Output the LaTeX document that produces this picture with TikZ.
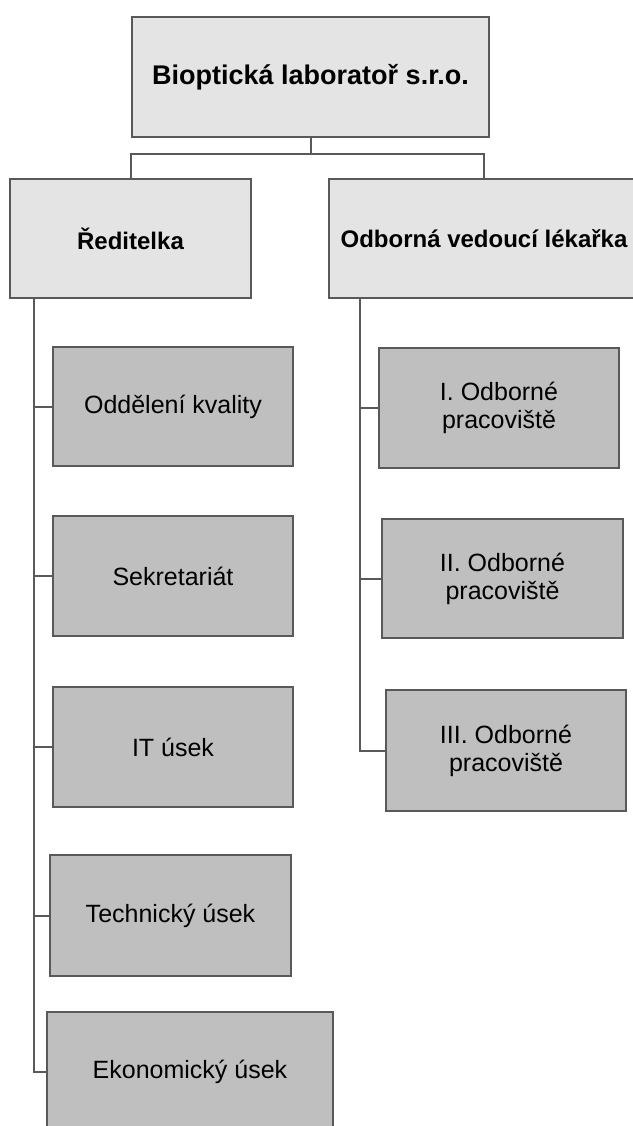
\documentclass[tikz,border=0pt]{standalone}
\usepackage{fontspec}
\setmainfont{Liberation Sans}
\definecolor{lineg}{HTML}{595959}
\definecolor{topfill}{HTML}{E4E4E4}
\definecolor{subfill}{HTML}{BFBFBF}
\begin{document}
\begin{tikzpicture}[x=1pt,y=-1pt,
  box/.style={draw=lineg, line width=2pt, inner sep=0pt, align=center},
  head/.style={box, fill=topfill, font=\bfseries\fontsize{24}{28}\selectfont},
  unit/.style={box, fill=subfill, font=\fontsize{25}{28}\selectfont},
  conn/.style={draw=lineg, line width=2pt}]
\useasboundingbox (0,0) rectangle (632,1126);
\fill[white] (0,0) rectangle (632,1126);
% top
\node[head, font=\bfseries\fontsize{27}{30}\selectfont, minimum width=357pt, minimum height=120pt] (top) at (310.5,77) {Bioptická laboratoř s.r.o.};
% second level
\node[head, minimum width=241pt, minimum height=119pt] (red) at (130.5,238.5) {Ředitelka};
\node[head, minimum width=310pt, minimum height=119pt] (odb) at (484,238.5) {Odborná vedoucí lékařka};
% left units
\node[unit, minimum width=240pt, minimum height=119pt] (ok) at (173,406.5) {Oddělení kvality};
\node[unit, minimum width=240pt, minimum height=120pt] (sek) at (173,576) {Sekretariát};
\node[unit, minimum width=240pt, minimum height=120pt] (it) at (173,747) {IT úsek};
\node[unit, minimum width=241pt, minimum height=121pt] (tech) at (170.5,915.5) {Technický úsek};
\node[unit, minimum width=286pt, minimum height=120pt] (eko) at (190,1072) {Ekonomický úsek};
% right units
\node[unit, minimum width=240pt, minimum height=120pt] (p1) at (499,408) {I. Odborné\\pracoviště};
\node[unit, minimum width=241pt, minimum height=119pt] (p2) at (502.5,578.5) {II. Odborné\\pracoviště};
\node[unit, minimum width=240pt, minimum height=121pt] (p3) at (506,750.5) {III. Odborné\\pracoviště};
% connectors
\coordinate (bus) at (0,154);
\coordinate (lsp) at (34,0);
\coordinate (rsp) at (360,0);
\draw[conn] (top.south) -- (top.south |- bus);
\draw[conn] (red.north) -- (red.north |- bus) -- (odb.north |- bus) -- (odb.north);
\draw[conn] (red.south -| lsp) |- (eko.west);
\foreach \n in {ok,sek,it,tech} \draw[conn] (\n.west -| lsp) -- (\n.west);
\draw[conn] (odb.south -| rsp) |- (p3.west);
\foreach \n in {p1,p2} \draw[conn] (\n.west -| rsp) -- (\n.west);
\end{tikzpicture}
\end{document}
